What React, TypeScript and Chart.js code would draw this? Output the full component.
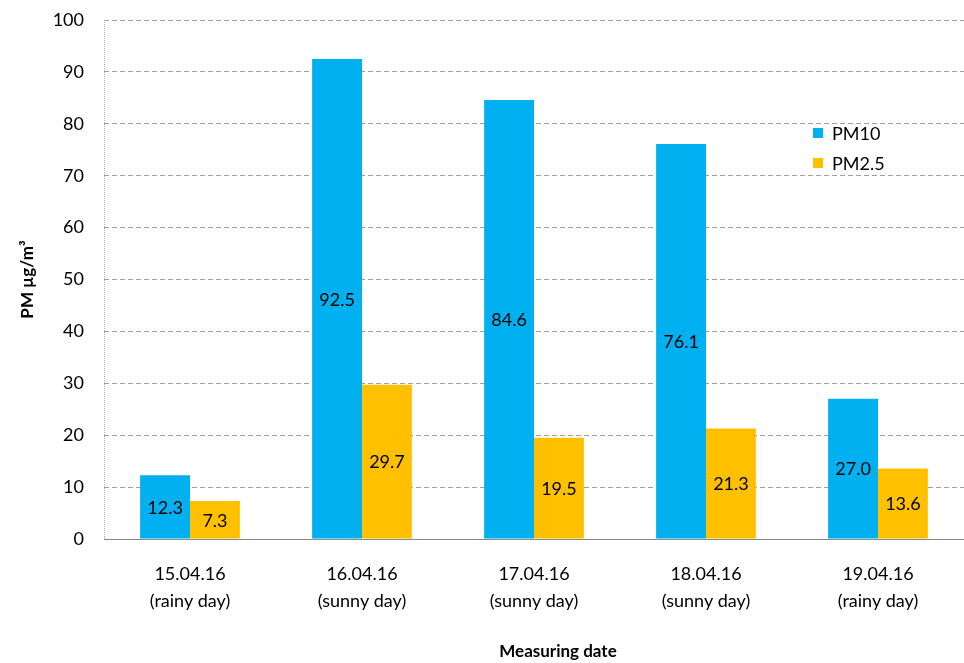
import React, { useEffect, useRef } from "react";
import { Chart, registerables } from "chart.js";

Chart.register(...registerables);

const categories: string[][] = [
  ["15.04.16", "(rainy day)"],
  ["16.04.16", "(sunny day)"],
  ["17.04.16", "(sunny day)"],
  ["18.04.16", "(sunny day)"],
  ["19.04.16", "(rainy day)"],
];
const pm10: number[] = [12.3, 92.5, 84.6, 76.1, 27.0];
const pm25: number[] = [7.3, 29.7, 19.5, 21.3, 13.6];
const seriesNames = ["PM10", "PM2.5"];
const seriesColors = ["#00B0F0", "#FFC000"];
const yTitle = "PM µg/m³";
const xTitle = "Measuring date";

const FONT = "Lato, 'Open Sans', sans-serif";

const barLabels = {
  id: "barLabels",
  afterDatasetsDraw(chart: any) {
    const ctx = chart.ctx;
    ctx.save();
    ctx.font = `18px ${FONT}`;
    ctx.fillStyle = "#000";
    ctx.textAlign = "center";
    ctx.textBaseline = "middle";
    chart.data.datasets.forEach((ds: any, i: number) => {
      const meta = chart.getDatasetMeta(i);
      meta.data.forEach((bar: any, j: number) => {
        const v = ds.data[j];
        ctx.fillText(Number(v).toFixed(1), bar.x, (bar.y + bar.base) / 2 + 1);
      });
    });
    ctx.restore();
  },
};

const customDecor = {
  id: "customDecor",
  beforeDatasetsDraw(chart: any) {
    const ctx = chart.ctx;
    const area = chart.chartArea;
    ctx.save();
    ctx.strokeStyle = "#b0b0b0";
    ctx.lineWidth = 1;
    ctx.setLineDash([1, 1]);
    ctx.beginPath();
    ctx.moveTo(area.left + 0.5, area.top);
    ctx.lineTo(area.left + 0.5, area.bottom);
    ctx.stroke();
    ctx.restore();
  },
  afterDraw(chart: any) {
    const ctx = chart.ctx;
    const area = chart.chartArea;
    ctx.save();
    // legend
    ctx.font = `18px ${FONT}`;
    ctx.textAlign = "left";
    ctx.textBaseline = "middle";
    chart.data.datasets.forEach((ds: any, i: number) => {
      const y = 133 + i * 30;
      ctx.fillStyle = ds.backgroundColor;
      ctx.fillRect(813, y - 5, 10, 10);
      ctx.fillStyle = "#000";
      ctx.fillText(ds.label, 832, y + 1);
    });
    // axis titles
    ctx.font = `bold 17px ${FONT}`;
    ctx.fillStyle = "#000";
    ctx.textAlign = "center";
    ctx.textBaseline = "middle";
    ctx.fillText(xTitle, 558, 652);
    ctx.translate(28, (area.top + area.bottom) / 2);
    ctx.rotate(-Math.PI / 2);
    ctx.fillText(yTitle, 0, 0);
    ctx.restore();
  },
};

export default function App() {
  const ref = useRef<HTMLCanvasElement>(null);
  useEffect(() => {
    if (!ref.current) return;
    const chart = new Chart(ref.current, {
      type: "bar",
      data: {
        labels: categories,
        datasets: [
          { label: seriesNames[0], data: pm10, backgroundColor: seriesColors[0] },
          { label: seriesNames[1], data: pm25, backgroundColor: seriesColors[1] },
        ],
      },
      options: {
        animation: false,
        responsive: false,
        layout: { padding: { top: 20, right: -3, left: 0, bottom: 0 } },
        datasets: { bar: { categoryPercentage: 0.58, barPercentage: 1 } },
        plugins: { legend: { display: false }, tooltip: { enabled: false } },
        scales: {
          x: {
            afterFit: (s: any) => {
              s.height = 124;
              s.paddingLeft = 0;
              s.paddingRight = 0;
            },
            grid: { display: false },
            border: { display: true, color: "#898989", width: 1 },
            ticks: {
              padding: 14,
              color: "#000",
              font: { family: FONT, size: 18, lineHeight: 1.5 },
            },
          },
          y: {
            min: 0,
            max: 100,
            afterFit: (s: any) => {
              s.width = 104;
              s.paddingTop = 0;
              s.paddingBottom = 0;
            },
            ticks: {
              stepSize: 10,
              padding: 20,
              color: "#000",
              font: { family: FONT, size: 18 },
            },
            grid: {
              color: "#a0a0a0",
              drawTicks: false,
              lineWidth: 1,
            },
            border: { display: false, dash: [5, 3] },
          },
        },
      },
      plugins: [barLabels, customDecor],
    } as any);
    return () => chart.destroy();
  }, []);
  return (
    <div style={{ position: "fixed", left: 0, top: 0, width: 964, height: 663, background: "#fff" }}>
      <canvas ref={ref} width={964} height={663} />
    </div>
  );
}
